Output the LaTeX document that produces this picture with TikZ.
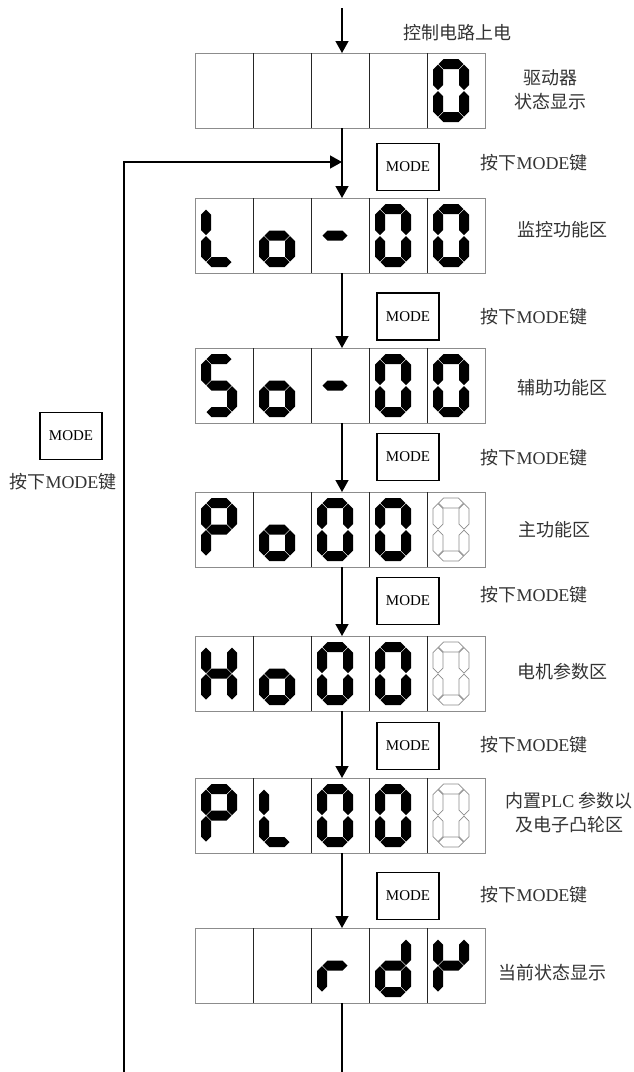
\documentclass[tikz,border=0pt]{standalone}
\usepackage{fontspec}
\setmainfont{Liberation Serif}
\newfontfamily\cjk{Noto Sans CJK SC}
\usetikzlibrary{arrows.meta,positioning}

\tikzset{
  panel/.style={draw=black!45, line width=1pt, minimum width=290, minimum height=75, inner sep=0pt, outer sep=0pt},
  divider/.style={draw=black!85, line width=0.8pt},
  lit/.style={fill=black},
  dim/.style={draw=black!45, line width=0.7pt},
  modekey/.style={draw, line width=1.5pt, minimum width=62, minimum height=47, inner sep=0pt, font=\fontsize{15}{17}\selectfont},
  lbl/.style={text=black!80, font=\fontsize{18}{24}\selectfont, inner sep=0pt, align=center},
  arr/.style={line width=1.4pt, -{Triangle[width=13pt,length=12pt]}},
  wire/.style={line width=1.4pt}
}

% seven segments, digit box 36 x 63
\newcommand\sega{\path[segs] (5.5,5) -- (10.5,0) -- (25.5,0) -- (30.5,5) -- (25.5,10) -- (10.5,10) -- cycle;}
\newcommand\segb{\path[segs] (31,5.5) -- (36,10.5) -- (36,26) -- (31,31) -- (26,26) -- (26,10.5) -- cycle;}
\newcommand\segc{\path[segs] (31,32) -- (36,37) -- (36,52.5) -- (31,57.5) -- (26,52.5) -- (26,37) -- cycle;}
\newcommand\segd{\path[segs] (5.5,58) -- (10.5,53) -- (25.5,53) -- (30.5,58) -- (25.5,63) -- (10.5,63) -- cycle;}
\newcommand\sege{\path[segs] (5,32) -- (10,37) -- (10,52.5) -- (5,57.5) -- (0,52.5) -- (0,37) -- cycle;}
\newcommand\segf{\path[segs] (5,5.5) -- (10,10.5) -- (10,26) -- (5,31) -- (0,26) -- (0,10.5) -- cycle;}
\newcommand\segg{\path[segs] (5.5,31.5) -- (10.5,26.5) -- (25.5,26.5) -- (30.5,31.5) -- (25.5,36.5) -- (10.5,36.5) -- cycle;}

\newcommand\digit[4][lit]{%
  \begin{scope}[shift={(#2,#3)}, segs/.style={#1}]
    \foreach \s in {#4}{\csname seg\s\endcsname}
  \end{scope}}

\newcommand\panel[2]{%
  \node[panel] (#1) at (340,#2) {};
  \foreach \k in {1,...,4}
    \draw[divider] ([xshift=58*\k]#1.north west) -- ([xshift=58*\k]#1.south west);}

\begin{document}
\begin{tikzpicture}[x=1pt, y=-1pt]
\useasboundingbox (0,0) rectangle (634,1072);

% displays
\panel{p1}{90.5}
\panel{p2}{235.5}
\panel{p3}{385.5}
\panel{p4}{529.5}
\panel{p5}{673.5}
\panel{p6}{815.5}
\panel{p7}{965.5}

% 0
\digit{433}{59}{a,b,c,d,e,f}
% Lo-00
\digit{201}{204}{d,e,f}
\digit{259}{204}{c,d,e,g}
\digit{317}{204}{g}
\digit{375}{204}{a,b,c,d,e,f}
\digit{433}{204}{a,b,c,d,e,f}
% So-00
\digit{201}{354}{a,c,d,f,g}
\digit{259}{354}{c,d,e,g}
\digit{317}{354}{g}
\digit{375}{354}{a,b,c,d,e,f}
\digit{433}{354}{a,b,c,d,e,f}
% Po000
\digit{201}{498}{a,b,e,f,g}
\digit{259}{498}{c,d,e,g}
\digit{317}{498}{a,b,c,d,e,f}
\digit{375}{498}{a,b,c,d,e,f}
\digit[dim]{433}{498}{a,b,c,d,e,f}
% Ho000
\digit{201}{642}{b,c,e,f,g}
\digit{259}{642}{c,d,e,g}
\digit{317}{642}{a,b,c,d,e,f}
\digit{375}{642}{a,b,c,d,e,f}
\digit[dim]{433}{642}{a,b,c,d,e,f}
% PL000
\digit{201}{784}{a,b,e,f,g}
\digit{259}{784}{d,e,f}
\digit{317}{784}{a,b,c,d,e,f}
\digit{375}{784}{a,b,c,d,e,f}
\digit[dim]{433}{784}{a,b,c,d,e,f}
% rdY
\digit{317}{934}{e,g}
\digit{375}{934}{b,c,d,e,g}
\digit{433}{934}{b,e,f,g}

% keys
\node[modekey] (k1) at (408,167) {MODE};
\node[modekey] (k2) at (408,316.5) {MODE};
\node[modekey] (k3) at (408,457) {MODE};
\node[modekey] (k4) at (408,601) {MODE};
\node[modekey] (k5) at (408,746) {MODE};
\node[modekey] (k6) at (408,896) {MODE};
\node[modekey] (k0) at (71,436) {MODE};

% texts
\node[lbl] (t0) at (457,33) {\cjk 控制电路上电};
\node[lbl] (t1) at (550,90) {\cjk 驱动器\\\cjk 状态显示};
\node[lbl] (t2) at (562,230) {\cjk 监控功能区};
\node[lbl] (t3) at (562,388) {\cjk 辅助功能区};
\node[lbl] (t4) at (554,530) {\cjk 主功能区};
\node[lbl] (t5) at (562,672) {\cjk 电机参数区};
\node[lbl] (t6) at (569,813) {{\cjk 内置}PLC {\cjk 参数以}\\{\cjk 及电子凸轮区}};
\node[lbl] (t7) at (552,973) {\cjk 当前状态显示};
\foreach \y [count=\i] in {163,317,458,595,745,895}
  \node[lbl] (m\i) at (534,\y) {{\cjk 按下}MODE{\cjk 键}};
\node[lbl] (m0) at (63,482) {{\cjk 按下}MODE{\cjk 键}};

% flow
\coordinate (stem) at (342,8);
\coordinate (join) at (342,162);
\coordinate (back) at (124,1072);
\coordinate (end) at (342,1072);
\draw[arr] (stem) -- (p1.north -| stem);
\foreach \a/\b in {p1/p2,p2/p3,p3/p4,p4/p5,p5/p6,p6/p7}
  \draw[arr] (\a.south -| stem) -- (\b.north -| stem);
\draw[wire] (p7.south -| stem) -- (end);
\draw[arr] (back) |- (join);
\end{tikzpicture}
\end{document}
